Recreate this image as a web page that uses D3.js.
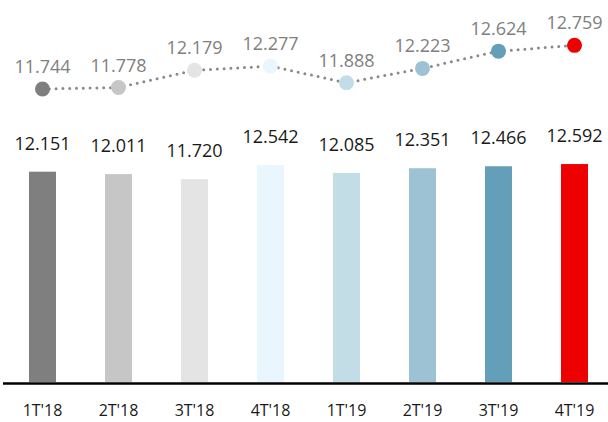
<!DOCTYPE html>
<html>
<head>
<meta charset="utf-8">
<script src="https://cdn.jsdelivr.net/npm/d3@7"></script>
<style>
  html, body { margin: 0; padding: 0; background: #fff; overflow: hidden; }
  text { font-family: "Open Sans", "Liberation Sans", sans-serif; }
</style>
</head>
<body>
<div id="chart"></div>
<script>
(function() {
  'use strict';

  var quarters = ["1T'18", "2T'18", "3T'18", "4T'18", "1T'19", "2T'19", "3T'19", "4T'19"];
  var barValues = [12.151, 12.011, 11.720, 12.542, 12.085, 12.351, 12.466, 12.592];
  var lineValues = [11.744, 11.778, 12.179, 12.277, 11.888, 12.223, 12.624, 12.759];
  var colors = ["#7f7f7f", "#c6c6c6", "#e4e4e4", "#eaf6fe", "#c3dde7", "#9cc2d3", "#649fba", "#ee0000"];

  var width = 608;
  var height = 422;
  var baseline = 382;

  var fmt = function (v) { return d3.format(".3f")(v); };

  var svg = d3.select("#chart")
    .append("svg")
    .attr("width", width)
    .attr("height", height);

  var x = d3.scaleBand()
    .domain(quarters)
    .range([4.5, 612.5])
    .paddingInner(0.645)
    .paddingOuter(0.3225);

  var yBar = d3.scaleLinear()
    .domain([0, 13])
    .range([baseline, 157]);

  var yLine = d3.scaleLinear()
    .domain([11, 13])
    .range([121, 35]);

  var rows = quarters.map(function (q, i) {
    return { q: q, bar: barValues[i], line: lineValues[i], color: colors[i] };
  });

  // bars
  svg.selectAll("rect.bar")
    .data(rows)
    .enter()
    .append("rect")
    .attr("class", "bar")
    .attr("x", function (d) { return x(d.q); })
    .attr("width", x.bandwidth())
    .attr("y", function (d) { return yBar(d.bar); })
    .attr("height", function (d) { return baseline - yBar(d.bar); })
    .attr("fill", function (d) { return d.color; });

  svg.selectAll("text.barlabel")
    .data(rows)
    .enter()
    .append("text")
    .attr("class", "barlabel")
    .attr("x", function (d) { return x(d.q) + x.bandwidth() / 2; })
    .attr("y", function (d) { return yBar(d.bar) - 22; })
    .attr("text-anchor", "middle")
    .attr("font-size", 18)
    .attr("fill", "#1a1a1a")
    .text(function (d) { return fmt(d.bar); });

  // axis
  var axis = d3.axisBottom(x).tickSize(0).tickPadding(21);
  var gAxis = svg.append("g")
    .attr("transform", "translate(0," + (baseline + 1.5) + ")")
    .call(axis);
  gAxis.select(".domain")
    .attr("d", "M3,0H608")
    .attr("stroke", "#000")
    .attr("stroke-width", 2.5);
  gAxis.selectAll(".tick text")
    .attr("font-size", 16)
    .attr("font-family", "Open Sans, Liberation Sans, sans-serif")
    .attr("fill", "#1a1a1a");

  // dotted line
  var line = d3.line()
    .x(function (d) { return x(d.q) + x.bandwidth() / 2; })
    .y(function (d) { return yLine(d.line); });

  svg.append("path")
    .datum(rows)
    .attr("d", line)
    .attr("fill", "none")
    .attr("stroke", "#8a8a8a")
    .attr("stroke-width", 3)
    .attr("stroke-linecap", "round")
    .attr("stroke-dasharray", "0,6.8");

  svg.selectAll("circle.dot")
    .data(rows)
    .enter()
    .append("circle")
    .attr("class", "dot")
    .attr("cx", function (d) { return x(d.q) + x.bandwidth() / 2; })
    .attr("cy", function (d) { return yLine(d.line); })
    .attr("r", 7.5)
    .attr("fill", function (d) { return d.color; });

  svg.selectAll("text.linelabel")
    .data(rows)
    .enter()
    .append("text")
    .attr("class", "linelabel")
    .attr("x", function (d) { return x(d.q) + x.bandwidth() / 2; })
    .attr("y", function (d) { return yLine(d.line) - 16; })
    .attr("text-anchor", "middle")
    .attr("font-size", 18)
    .attr("fill", "#808080")
    .text(function (d) { return fmt(d.line); });
})();
</script>
</body>
</html>
